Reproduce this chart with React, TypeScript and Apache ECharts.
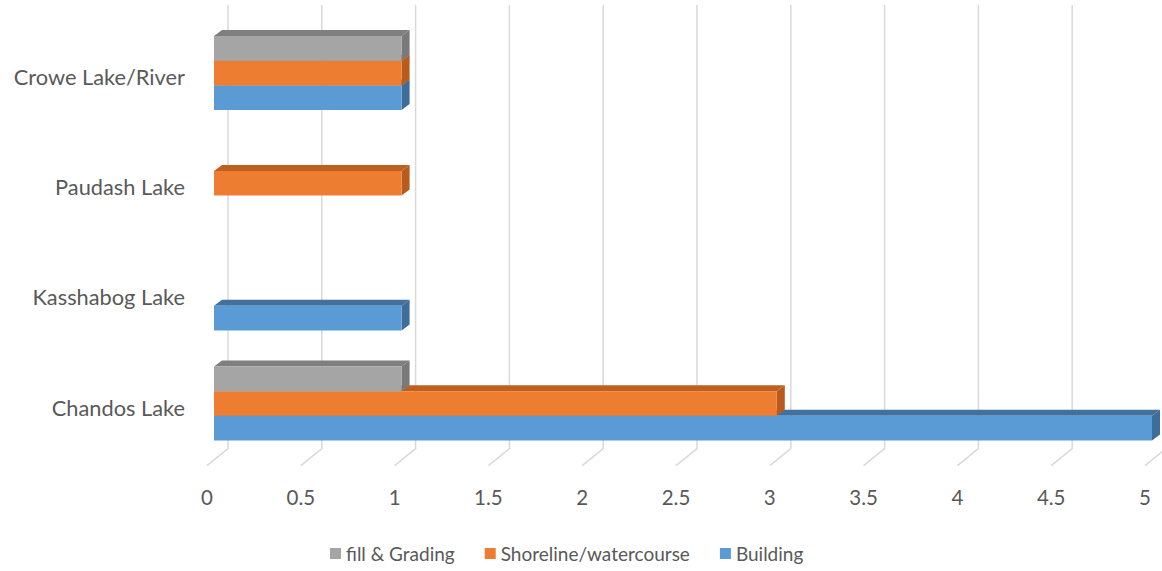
import React, { useEffect, useRef } from "react";
import * as echarts from "echarts";

const categories = ["Chandos Lake", "Kasshabog Lake", "Paudash Lake", "Crowe Lake/River"];
const building = [5, 1, 0, 1];
const shoreline = [3, 0, 1, 1];
const fillGrading = [1, 0, 0, 1];
const tickValues = [0, 0.5, 1, 1.5, 2, 2.5, 3, 3.5, 4, 4.5, 5];

const FONT = "Lato";
const DX = 8;
const DY = 6;

function makeBarRender(slot: number, front: string, top: string, side: string) {
  return (params: any, api: any) => {
    const v = api.value(0);
    const c = api.value(1);
    if (!v) return null;
    const p0 = api.coord([0, c]);
    const p1 = api.coord([v, c]);
    const band = api.size([0, 1])[1];
    const h = band * 0.224;
    const cy = p0[1] + slot * h;
    const yT = cy - h / 2;
    const yB = cy + h / 2;
    const x0 = p0[0];
    const x1 = p1[0];
    return {
      type: "group",
      children: [
        {
          type: "polygon",
          shape: { points: [[x0, yT], [x1, yT], [x1 + DX, yT - DY], [x0 + DX, yT - DY]] },
          style: { fill: top },
        },
        {
          type: "polygon",
          shape: { points: [[x1, yT], [x1 + DX, yT - DY], [x1 + DX, yB - DY], [x1, yB]] },
          style: { fill: side },
        },
        {
          type: "rect",
          shape: { x: x0, y: yT, width: x1 - x0, height: h },
          style: { fill: front },
        },
      ],
    };
  };
}

function gridRender(params: any, api: any) {
  const v = api.value(0);
  const p = api.coord([v, 0]);
  const cs = params.coordSys;
  const xb = p[0] + 14;
  const yTop = cs.y - 13;
  const yFloor = cs.y + cs.height - 10;
  return {
    type: "polyline",
    shape: { points: [[xb, yTop], [xb, yFloor], [xb - 21, yFloor + 17]] },
    style: { stroke: "#d9d9d9", lineWidth: 1.5, fill: null },
  };
}

export default function App() {
  const ref = useRef<HTMLDivElement>(null);
  useEffect(() => {
    if (!ref.current) return;
    const chart = echarts.init(ref.current, null, { renderer: "svg" });
    chart.setOption({
      animation: false,
      backgroundColor: "#ffffff",
      grid: [
        { left: 214, right: 10, top: 18, bottom: 112.4, containLabel: false },
        { left: 214, right: 10, top: 21.5, bottom: 108.9, containLabel: false },
      ],
      legend: {
        left: 325,
        top: 539,
        itemWidth: 11,
        itemHeight: 11,
        itemGap: 30,
        icon: "rect",
        data: ["fill & Grading", "Shoreline/watercourse", "Building"],
        textStyle: { fontFamily: FONT, fontSize: 19, color: "#595959" },
      },
      xAxis: [
        {
          type: "value",
          gridIndex: 0,
          min: 0,
          max: 5,
          interval: 0.5,
          axisLine: { show: false },
          axisTick: { show: false },
          splitLine: { show: false },
          axisLabel: {
            fontFamily: FONT,
            fontSize: 20.5,
            color: "#595959",
            margin: 28,
            padding: [0, 14, 0, 0],
          },
        },
        {
          type: "value",
          gridIndex: 1,
          min: 0,
          max: 5,
          show: false,
        },
      ],
      yAxis: [
        {
          type: "category",
          gridIndex: 0,
          data: categories,
          axisLine: { show: false },
          axisTick: { show: false },
          splitLine: { show: false },
          axisLabel: { show: false },
        },
        {
          type: "category",
          gridIndex: 1,
          data: categories,
          axisLine: { show: false },
          axisTick: { show: false },
          splitLine: { show: false },
          axisLabel: {
            fontFamily: FONT,
            fontSize: 21.8,
            color: "#595959",
            margin: 29,
          },
        },
      ],
      series: [
        {
          type: "custom",
          name: "grid",
          z: 1,
          silent: true,
          renderItem: gridRender,
          encode: { x: 0 },
          data: tickValues.map((v) => [v, 0]),
        },
        {
          type: "custom",
          name: "Building",
          z: 2,
          itemStyle: { color: "#5B9BD5" },
          renderItem: makeBarRender(1, "#5B9BD5", "#41719C", "#3E6D99"),
          encode: { x: 0, y: 1 },
          data: building.map((v, i) => [v, i]),
        },
        {
          type: "custom",
          name: "Shoreline/watercourse",
          z: 3,
          itemStyle: { color: "#ED7D31" },
          renderItem: makeBarRender(0, "#ED7D31", "#C0601F", "#B85B1D"),
          encode: { x: 0, y: 1 },
          data: shoreline.map((v, i) => [v, i]),
        },
        {
          type: "custom",
          name: "fill & Grading",
          z: 4,
          itemStyle: { color: "#A5A5A5" },
          renderItem: makeBarRender(-1, "#A5A5A5", "#7F7F7F", "#7A7A7A"),
          encode: { x: 0, y: 1 },
          data: fillGrading.map((v, i) => [v, i]),
        },
      ],
    });
    return () => chart.dispose();
  }, []);
  return (
    <div
      ref={ref}
      style={{ position: "fixed", left: 0, top: 0, width: 1162, height: 571 }}
    />
  );
}
